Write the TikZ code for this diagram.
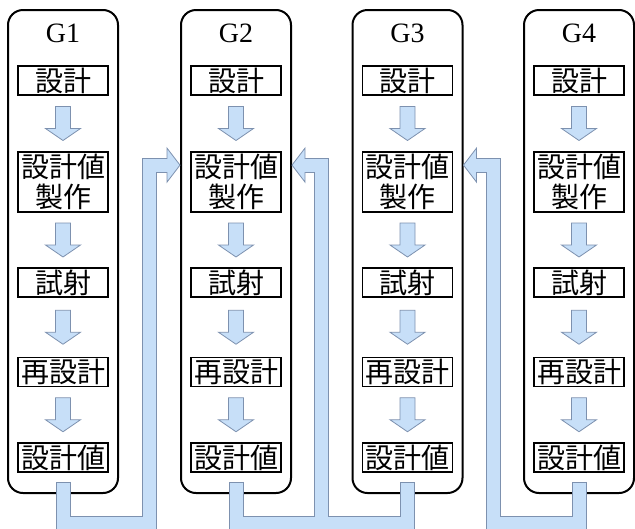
\documentclass[tikz,border=0pt]{standalone}
\usepackage{fontspec}
\setmainfont{Liberation Serif}
\newfontfamily\jpfont{Noto Sans CJK JP}
\usetikzlibrary{calc}
\definecolor{flowblue}{RGB}{199,223,248}
\definecolor{flowedge}{RGB}{125,145,175}

\begin{document}
\begin{tikzpicture}[x=1pt,y=-1pt,
  col/.style={draw,line width=2,rounded corners=15,minimum width=110,minimum height=483},
  ttl/.style={font=\fontsize{28}{30}\selectfont},
  box/.style={draw,line width=1.8,minimum width=90,minimum height=29,inner sep=0,align=center,
    font=\jpfont\fontsize{28}{30}\selectfont},
  flow/.style={fill=flowblue,draw=flowedge,line width=0.8},
  pipeo/.style={draw=flowedge,line width=15,line join=miter},
  pipei/.style={draw=flowblue,line width=13,line join=miter}]

\useasboundingbox (0,0) rectangle (635,528);
\clip (0,0) rectangle (635,528);

% four groups
\foreach \i/\x in {1/63,2/236,3/407.5,4/579}{
  \node[col] (g\i) at (\x,251.5) {};
  \node[ttl] (h\i) at (\x,33) {G\i};
  \node[box] (d\i) at (\x,80.5) {設計};
  \node[box,minimum height=60] (m\i) at (\x,182) {設計値\\製作};
  \node[box] (t\i) at (\x,282.5) {試射};
  \node[box] (r\i) at (\x,372) {再設計};
  \node[box] (v\i) at (\x,457.5) {設計値};
  \foreach \a/\b in {d/m,m/t,t/r,r/v}{
    \path ($(\a\i.south)!0.5!(\b\i.north)$) coordinate (c);
    \draw[flow] ($(c)+(-7.5,-17)$) -- ($(c)+(7.5,-17)$) -- ($(c)+(7.5,5)$) -- ($(c)+(17.5,5)$)
      -- ($(c)+(0,17)$) -- ($(c)+(-17.5,5)$) -- ($(c)+(-7.5,5)$) -- cycle;
  }
}

% feedback pipes
\coordinate (bot) at (0,523.5);
\coordinate (s1) at ($(g1.east)!0.5!(g2.west)$);
\coordinate (s2) at ($(g2.east)!0.5!(g3.west)$);
\coordinate (s3) at ($(g3.east)!0.5!(g4.west)$);
\coordinate (p1) at ($(g2.west |- m2.north)+(0,14)$);
\coordinate (p2) at ($(g2.east |- m2.north)+(0,14)$);
\coordinate (p3) at ($(g3.east |- m3.north)+(0,14)$);
\foreach \v in {1,2,3,4} \coordinate (o\v) at ($(v\v.south)+(0,10)$);

\draw[pipeo,shorten <=-1] (o1) -- (o1 |- bot) -- (s1 |- bot) -- (s1 |- p1) -- ($(p1)+(-13,0)$);
\draw[pipeo,shorten <=-1,shorten >=-1] (o2) -- (o2 |- bot) -- (o3 |- bot) -- (o3);
\draw[pipeo] (s2 |- bot) -- (s2 |- p2) -- ($(p2)+(13,0)$);
\draw[pipeo,shorten <=-1] (o4) -- (o4 |- bot) -- (s3 |- bot) -- (s3 |- p3) -- ($(p3)+(13,0)$);

\draw[flow] ($(p1)+(-13,-17)$) -- (p1) -- ($(p1)+(-13,17)$) -- cycle;
\draw[flow] ($(p2)+(13,-17)$) -- (p2) -- ($(p2)+(13,17)$) -- cycle;
\draw[flow] ($(p3)+(13,-17)$) -- (p3) -- ($(p3)+(13,17)$) -- cycle;

\draw[pipei] (o1) -- (o1 |- bot) -- (s1 |- bot) -- (s1 |- p1) -- ($(p1)+(-11,0)$);
\draw[pipei] (o2) -- (o2 |- bot) -- (o3 |- bot) -- (o3);
\draw[pipei] (s2 |- bot) -- (s2 |- p2) -- ($(p2)+(11,0)$);
\draw[pipei] (o4) -- (o4 |- bot) -- (s3 |- bot) -- (s3 |- p3) -- ($(p3)+(11,0)$);

\end{tikzpicture}
\end{document}
